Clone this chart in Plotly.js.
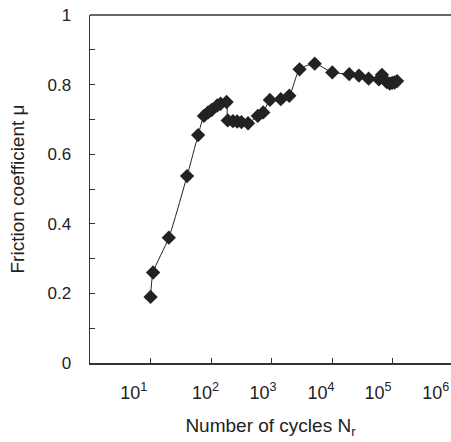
<!DOCTYPE html>
<html>
<head>
<meta charset="utf-8">
<script src="https://cdn.plot.ly/plotly-3.0.1.min.js"></script>
<style>html,body{margin:0;padding:0;background:#fff;}#chart{width:451px;height:442px;}</style>
</head>
<body>
<div id="chart"></div>
<script>
// Number of cycles N_r
var cycles = [10, 11, 20, 40, 61, 76, 89, 102, 126, 143, 180, 188, 229, 269, 316, 407, 589, 724, 933, 1413, 1950, 2884, 5129, 10000, 19055, 27542, 39811, 58884, 66069, 79433, 89125, 97724, 107152, 117490];
// Friction coefficient mu
var friction = [0.19, 0.26, 0.36, 0.537, 0.655, 0.71, 0.72, 0.727, 0.74, 0.745, 0.75, 0.697, 0.695, 0.694, 0.692, 0.689, 0.71, 0.72, 0.756, 0.758, 0.768, 0.844, 0.86, 0.835, 0.83, 0.826, 0.817, 0.815, 0.828, 0.807, 0.803, 0.805, 0.806, 0.81];

var xTickVals = [10, 100, 1000, 10000, 100000];
var xLabelVals = [5.3, 81, 720, 6500, 57000, 510000];
var xLabelText = ['10<sup>1</sup>', '10<sup>2</sup>', '10<sup>3</sup>', '10<sup>4</sup>', '10<sup>5</sup>', '10<sup>6</sup>'];
var yTickVals = [0, 0.1, 0.2, 0.3, 0.4, 0.5, 0.6, 0.7, 0.8, 0.9, 1];
var yTickText = ['0', '', '0.2', '', '0.4', '', '0.6', '', '0.8', '', '1'];

var font = {family: 'Liberation Sans, Arial, sans-serif', size: 17, color: '#222'};
var xRange = [0, 5.96];

var trace = {
  x: cycles, y: friction, type: 'scatter', mode: 'lines+markers',
  line: {color: '#222', width: 1, shape: 'spline', smoothing: 0.6},
  marker: {symbol: 'diamond', size: 11, color: '#222'},
  hoverinfo: 'none'
};
var labelTrace = {x: [], y: [], xaxis: 'x2', yaxis: 'y', type: 'scatter', hoverinfo: 'none'};

var layout = {
  width: 451, height: 442,
  margin: {l: 90, r: 0, t: 15, b: 79},
  paper_bgcolor: '#fff', plot_bgcolor: '#fff',
  showlegend: false,
  font: font,
  xaxis: {
    type: 'log', range: xRange,
    tickvals: xTickVals, ticktext: ['', '', '', '', ''],
    ticks: 'inside', ticklen: 5, tickcolor: '#333', tickwidth: 1,
    showline: true, linecolor: '#333', linewidth: 1.5, mirror: false,
    showgrid: false, zeroline: false,
    title: {text: 'Number of cycles N<sub>r</sub>', font: {family: font.family, size: 19, color: '#222'}, standoff: 52}
  },
  xaxis2: {
    type: 'log', range: xRange, overlaying: 'x', anchor: 'y', side: 'bottom',
    tickvals: xLabelVals, ticktext: xLabelText, ticks: '', showline: false,
    showgrid: false, zeroline: false, ticklabelstandoff: 17, ticklabeloverflow: 'allow',
    tickfont: {family: font.family, size: 18, color: '#222'}
  },
  yaxis: {
    range: [0, 1], tickvals: yTickVals, ticktext: yTickText,
    ticks: 'inside', ticklen: 5, tickcolor: '#333', tickwidth: 1,
    showline: true, linecolor: '#333', linewidth: 1.5,
    showgrid: false, zeroline: false, ticklabelstandoff: 14,
    tickfont: {family: font.family, size: 17, color: '#222'},
    title: {text: 'Friction coefficient μ', font: {family: font.family, size: 19, color: '#222'}, standoff: 18}
  },
  shapes: [{type: 'line', xref: 'paper', yref: 'paper', x0: 0, x1: 1, y0: 1, y1: 1, line: {color: '#333', width: 1.5}}]
};

Plotly.newPlot('chart', [trace, labelTrace], layout, {staticPlot: true, displayModeBar: false});
</script>
</body>
</html>
